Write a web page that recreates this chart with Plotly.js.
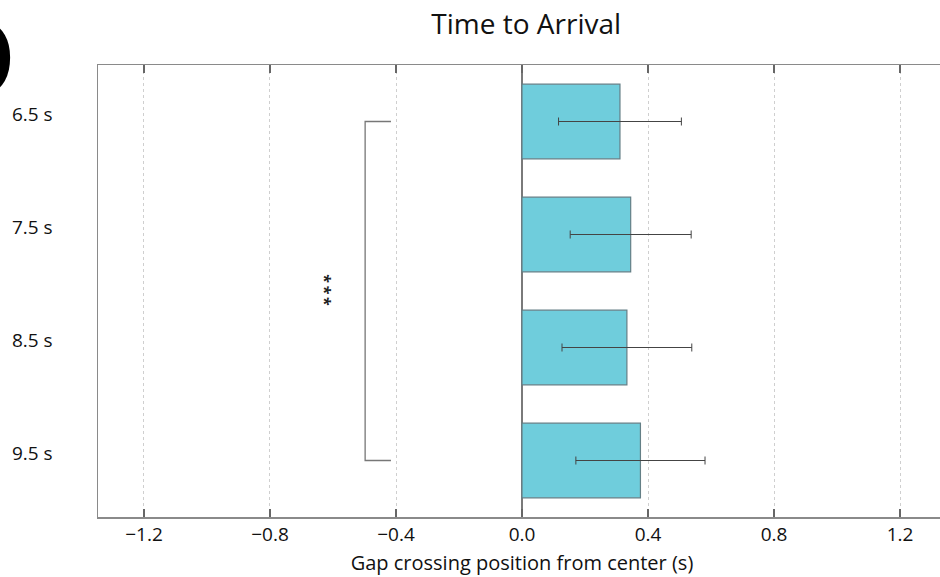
<!DOCTYPE html>
<html>
<head>
<meta charset="utf-8">
<script src="https://cdn.plot.ly/plotly-3.0.1.min.js"></script>
<style>
  html, body { margin: 0; padding: 0; overflow: hidden; background: #fff; }
  #chart { width: 950px; height: 577px; }
</style>
</head>
<body>
<div id="chart"></div>
<script>
// ---- data ----
const categories = ["6.5 s", "7.5 s", "8.5 s", "9.5 s"];
const meanValues = [0.311, 0.345, 0.333, 0.376];
const errorValues = [0.195, 0.192, 0.206, 0.205];
const xTickValues = [-1.2, -0.8, -0.4, 0.0, 0.4, 0.8, 1.2];
const xTickLabels = ["\u22121.2", "\u22120.8", "\u22120.4", "0.0", "0.4", "0.8", "1.2"];
const bracketX = -0.498;
const bracketArm = 0.082;
const starX = -0.617;
const starText = "<b>*\u2009*\u2009*</b>";
const FONT = "Open Sans, sans-serif";

const bars = {
  type: "bar",
  orientation: "h",
  x: meanValues,
  y: categories,
  width: 0.66,
  marker: { color: "#6fcddc", line: { color: "#647f86", width: 1.2 } },
  error_x: { type: "data", array: errorValues, visible: true, color: "#444", thickness: 1, width: 4 },
  hoverinfo: "x+y",
  showlegend: false
};

const bracket = {
  type: "scatter",
  mode: "lines",
  x: [bracketX + bracketArm, bracketX, bracketX, bracketX + bracketArm],
  y: [categories[0], categories[0], categories[categories.length - 1], categories[categories.length - 1]],
  line: { color: "#777", width: 1.3 },
  hoverinfo: "skip",
  showlegend: false
};

const midIdx = (categories.length - 1) / 2;

const layout = {
  width: 950, height: 577,
  margin: { l: 98, r: 4, t: 65, b: 60 },
  paper_bgcolor: "#fff", plot_bgcolor: "#fff",
  font: { family: FONT, color: "#111" },
  title: {
    text: "Time to Arrival",
    font: { family: FONT, size: 28, color: "#111" },
    xref: "paper", x: 0.505, xanchor: "center",
    yref: "container", y: 0.958, yanchor: "middle"
  },
  xaxis: {
    range: [-1.346, 1.346],
    tickvals: xTickValues, ticktext: xTickLabels,
    tickfont: { family: FONT, size: 19, color: "#111" },
    ticks: "inside", ticklen: 8, tickcolor: "#666", tickwidth: 1.2,
    showline: true, linecolor: "#8a8a8a", linewidth: 1.5, mirror: "ticks",
    showgrid: true, gridcolor: "#cfcfcf", griddash: "dot", gridwidth: 1,
    zeroline: true, zerolinecolor: "#7a7a7a", zerolinewidth: 1.2,
    title: { text: "Gap crossing position from center (s)", font: { family: FONT, size: 20, color: "#111" }, standoff: 9 },
    fixedrange: true
  },
  yaxis: {
    type: "category",
    categoryorder: "array", categoryarray: categories,
    range: [categories.length - 0.5, -0.5],
    tickfont: { family: FONT, size: 19, color: "#111" },
    ticks: "", showline: true, linecolor: "#8a8a8a", linewidth: 1.5, mirror: true,
    showgrid: false, zeroline: false,
    ticklabelstandoff: 40,
    ticklabelshift: 7,
    fixedrange: true
  },
  annotations: [
    {
      x: starX, y: midIdx, xref: "x", yref: "y",
      text: starText, textangle: 90, showarrow: false,
      font: { family: FONT, size: 16, color: "#222" },
      xshift: -3, yshift: 1
    },
    {
      text: "<b>D</b>", showarrow: false,
      xref: "paper", yref: "paper",
      x: (19 - 98) / 848, xanchor: "right",
      y: 1 + (65 - 55) / 452, yanchor: "middle",
      font: { family: FONT, size: 116, color: "#000" }
    }
  ],
  bargap: 0.34
};

Plotly.newPlot("chart", [bars, bracket], layout, { displayModeBar: false, staticPlot: true });
</script>
</body>
</html>
